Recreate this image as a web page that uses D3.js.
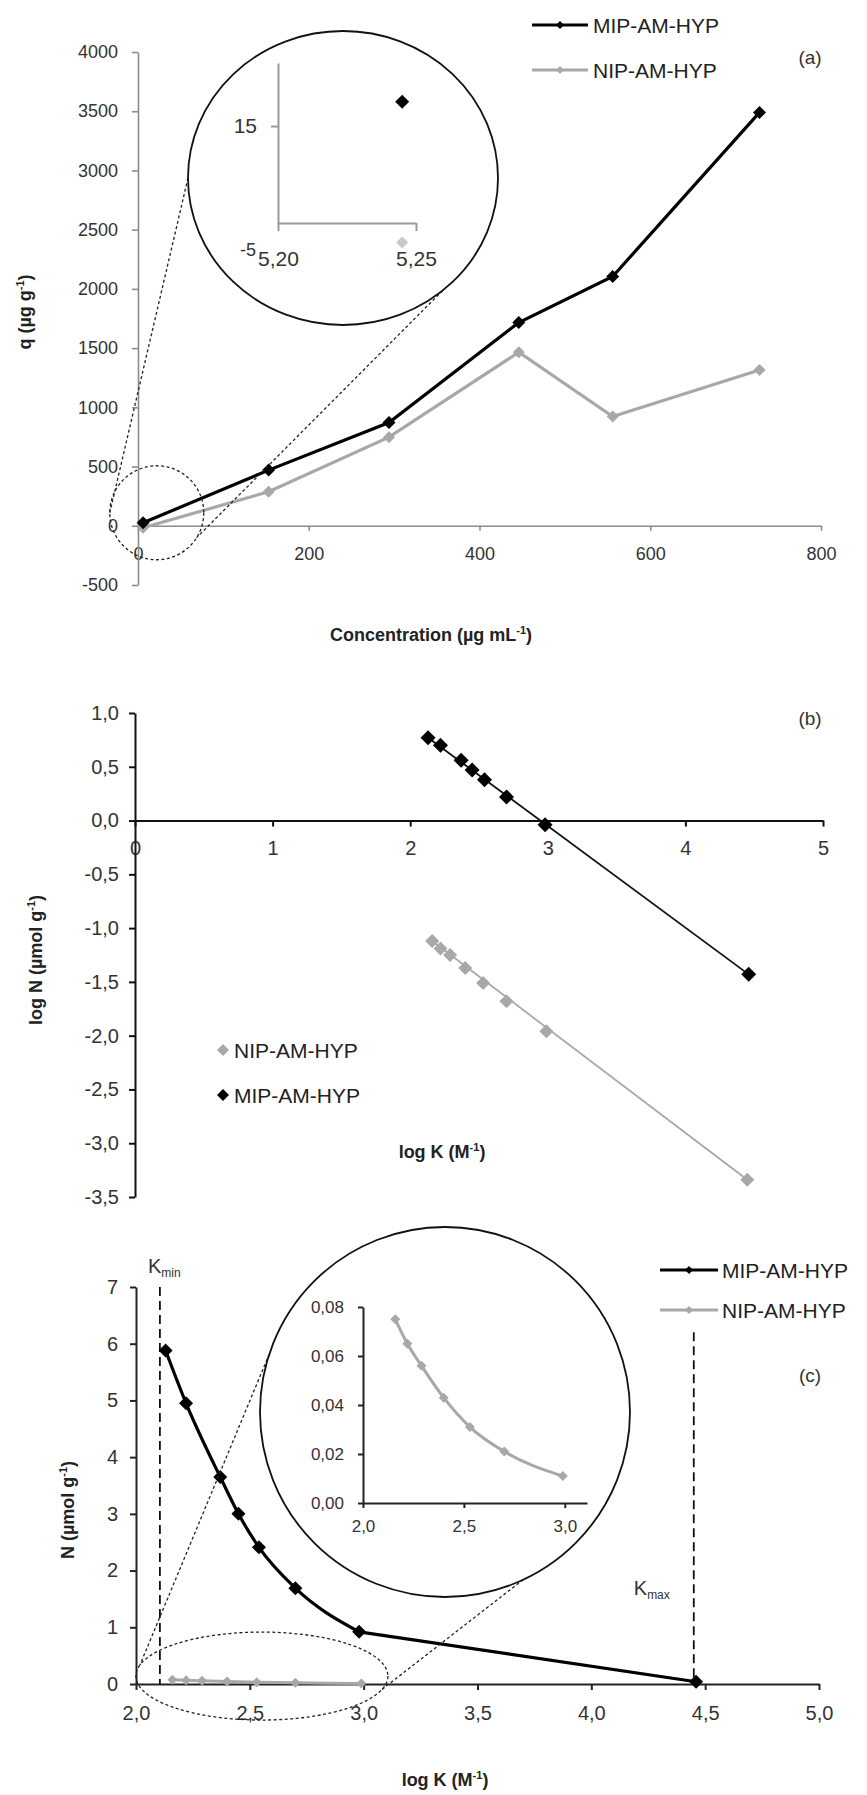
<!DOCTYPE html>
<html>
<head>
<meta charset="utf-8">
<script src="https://cdn.jsdelivr.net/npm/d3@7"></script>
<style>
  body { margin: 0; background: #fff; }
  text { font-family: "Liberation Sans", Arial, sans-serif; }
</style>
</head>
<body>
<div id="chart"></div>
<script>
// ---- panel (a): q vs concentration
const concA = [6, 153, 294, 446, 556, 728]
const qMIP = [25, 470, 872, 1716, 2105, 3490]
const qNIP = [-17, 288, 748, 1465, 922, 1316]
const qTicks = [-500, 0, 500, 1000, 1500, 2000, 2500, 3000, 3500, 4000]
const concTicks = [0, 200, 400, 600, 800]

// zoom inset of (a): first point only
const insetConc = [5.245]
const insetQMIP = [20]
const insetQNIP = [-9]
const insetConcTicks = [5.20, 5.25]
const insetQTicks = [15]

// ---- panel (b): log N vs log K
const logKMIP = [2.13, 2.22, 2.37, 2.45, 2.54, 2.70, 2.98, 4.46]
const logNMIP = [0.77, 0.70, 0.56, 0.47, 0.38, 0.22, -0.04, -1.43]
const logKNIP = [2.16, 2.22, 2.29, 2.40, 2.53, 2.70, 2.99, 4.45]
const logNNIP = [-1.12, -1.19, -1.25, -1.37, -1.51, -1.68, -1.96, -3.34]
const logKTicks = [0, 1, 2, 3, 4, 5]
const logNTicks = [-3.5, -3.0, -2.5, -2.0, -1.5, -1.0, -0.5, 0.0, 0.5, 1.0]

// ---- panel (c): N vs log K
const nMIP = [5.88, 4.95, 3.65, 3.0, 2.41, 1.69, 0.92, 0.04]
const logKNIPc = [2.16, 2.22, 2.29, 2.40, 2.53, 2.70, 2.99]
const nNIP = [0.075, 0.065, 0.056, 0.043, 0.031, 0.021, 0.011]
const logKTicksC = [2.0, 2.5, 3.0, 3.5, 4.0, 4.5, 5.0]
const nTicks = [0, 1, 2, 3, 4, 5, 6, 7]
const kMin = 2.105
const kMax = 4.45
const insetKTicks = [2.0, 2.5, 3.0]
const insetNTicks = [0, 0.02, 0.04, 0.06, 0.08]

const seriesNames = ["MIP-AM-HYP", "NIP-AM-HYP"]

const GREY = "#a8a8a8"
const W = 867, H = 1795

const svg = d3.select("#chart").append("svg")
  .attr("width", W)
  .attr("height", H)

const diamond = r => `M0,${-r}L${r},0L0,${r}L${-r},0Z`
const comma = f => d => d3.format(f)(d).replace(".", ",").replace("−", "-")

function styleAxis(sel, color, width, size, family) {
  sel.attr("font-size", size).attr("font-family", family || "Liberation Sans, Arial, sans-serif")
  sel.select(".domain").attr("stroke", color).attr("stroke-width", width)
  sel.selectAll(".tick line").attr("stroke", color).attr("stroke-width", width)
  sel.selectAll(".tick text").attr("fill", "#333")
}

function axisTitle(g, x, y, parts, rotate) {
  const t = g.append("text")
    .attr("transform", `translate(${x},${y})` + (rotate ? " rotate(-90)" : ""))
    .attr("text-anchor", "middle")
    .attr("font-size", 18)
    .attr("font-weight", "bold")
    .attr("fill", "#222")
  parts.forEach(p => {
    t.append("tspan")
      .attr("font-size", p.sup ? 11 : 18)
      .attr("dy", p.sup ? -7 : (p.after ? 7 : 0))
      .text(p.t)
  })
}

// ================= panel (a) =================
const xA = d3.scaleLinear().domain([0, 800]).range([138, 821])
const yA = d3.scaleLinear().domain([-500, 4000]).range([585, 52])
const gA = svg.append("g")

gA.append("g")
  .attr("transform", `translate(0,${yA(0)})`)
  .call(d3.axisBottom(xA).tickValues(concTicks).tickSize(5).tickSizeOuter(0).tickPadding(16).tickFormat(d3.format("d")))
  .call(s => styleAxis(s, "#8c8c8c", 1.6, 18))

gA.append("g")
  .attr("transform", `translate(${xA(0)},0)`)
  .call(d3.axisLeft(yA).tickValues(qTicks).tickSize(6).tickSizeOuter(0).tickPadding(14).tickFormat(comma("d")))
  .call(s => styleAxis(s, "#8c8c8c", 1.6, 18))

const lineA = d3.line().x(d => xA(d[0])).y(d => yA(d[1]))
const ptsAN = concA.map((c, i) => [c, qNIP[i]])
const ptsAM = concA.map((c, i) => [c, qMIP[i]])

gA.append("path").attr("d", lineA(ptsAN)).attr("fill", "none").attr("stroke", GREY).attr("stroke-width", 3.2)
gA.selectAll(".mn").data(ptsAN).enter().append("path")
  .attr("d", diamond(6)).attr("fill", GREY)
  .attr("transform", d => `translate(${xA(d[0])},${yA(d[1])})`)
gA.append("path").attr("d", lineA(ptsAM)).attr("fill", "none").attr("stroke", "#000").attr("stroke-width", 3.2)
gA.selectAll(".mm").data(ptsAM).enter().append("path")
  .attr("d", diamond(6.5)).attr("fill", "#000")
  .attr("transform", d => `translate(${xA(d[0])},${yA(d[1])})`)

// zoom callout (a)
const smallA = { cx: xA(22), cy: yA(110), r: 47 }
const bigA = { cx: 343, cy: 178, rx: 155, ry: 147 }
const onE = (e, deg) => [e.cx + (e.rx || e.r) * Math.cos(deg * Math.PI / 180), e.cy + (e.ry || e.r) * Math.sin(deg * Math.PI / 180)]
const dashA = [[onE(bigA, 180), onE(smallA, 180)], [onE(bigA, 50), onE(smallA, 32)]]
gA.append("ellipse").attr("cx", smallA.cx).attr("cy", smallA.cy).attr("rx", smallA.r).attr("ry", smallA.r)
  .attr("fill", "none").attr("stroke", "#222").attr("stroke-width", 1.3).attr("stroke-dasharray", "3,2.5")
dashA.forEach(l => gA.append("line")
  .attr("x1", l[0][0]).attr("y1", l[0][1]).attr("x2", l[1][0]).attr("y2", l[1][1])
  .attr("stroke", "#222").attr("stroke-width", 1.3).attr("stroke-dasharray", "3,2.5"))
gA.append("ellipse").attr("cx", bigA.cx).attr("cy", bigA.cy).attr("rx", bigA.rx).attr("ry", bigA.ry)
  .attr("fill", "#fff").attr("stroke", "#111").attr("stroke-width", 1.8)

const xIA = d3.scaleLinear().domain([5.20, 5.25]).range([278, 416])
const yIA = d3.scaleLinear().domain([-5, 28]).range([223, 63])
gA.append("g")
  .attr("transform", `translate(0,${yIA(-5)})`)
  .call(d3.axisBottom(xIA).tickValues(insetConcTicks).tickSize(8).tickSizeOuter(0).tickPadding(20).tickFormat(comma(".2f")))
  .call(s => styleAxis(s, "#9a9a9a", 2, 21, "Lato, sans-serif"))
gA.append("g")
  .attr("transform", `translate(${xIA(5.20)},0)`)
  .call(d3.axisLeft(yIA).tickValues(insetQTicks).tickSize(7).tickSizeOuter(0).tickPadding(14))
  .call(s => styleAxis(s, "#9a9a9a", 2, 21, "Lato, sans-serif"))
gA.append("text").attr("x", xIA(5.20) - 22).attr("y", yIA(-5) + 33)
  .attr("text-anchor", "end").attr("font-family", "Lato, sans-serif").attr("font-size", 18).attr("fill", "#333").text("-5")
gA.selectAll(".imn").data(insetConc).enter().append("path")
  .attr("d", diamond(6)).attr("fill", "#c8c8c8")
  .attr("transform", (d, i) => `translate(${xIA(d)},${yIA(insetQNIP[i])})`)
gA.selectAll(".imm").data(insetConc).enter().append("path")
  .attr("d", diamond(7)).attr("fill", "#000")
  .attr("transform", (d, i) => `translate(${xIA(d)},${yIA(insetQMIP[i])})`)

// legend (a)
const legA = gA.append("g")
seriesNames.forEach((n, i) => {
  const y = 25 + i * 45
  const c = i === 0 ? "#000" : GREY
  legA.append("line").attr("x1", 532).attr("x2", 588).attr("y1", y).attr("y2", y).attr("stroke", c).attr("stroke-width", 3.2)
  legA.append("path").attr("d", diamond(4)).attr("fill", c).attr("transform", `translate(560,${y})`)
  legA.append("text").attr("x", 593).attr("y", y).attr("dy", "0.36em").attr("font-size", 21).attr("fill", "#222").text(n)
})
gA.append("text").attr("x", 810).attr("y", 57).attr("dy", "0.35em").attr("text-anchor", "middle")
  .attr("font-family", "Liberation Serif, serif").attr("font-size", 19).attr("fill", "#333").text("(a)")

axisTitle(gA, 431, 641, [{ t: "Concentration (µg mL" }, { t: "-1", sup: true }, { t: ")", after: true }])
axisTitle(gA, 31, 312, [{ t: "q (µg g" }, { t: "-1", sup: true }, { t: ")", after: true }], true)

// ================= panel (b) =================
const xB = d3.scaleLinear().domain([0, 5]).range([135, 823])
const yB = d3.scaleLinear().domain([-3.5, 1.0]).range([1197, 713])
const gB = svg.append("g")

gB.append("g")
  .attr("transform", `translate(0,${yB(0)})`)
  .call(d3.axisBottom(xB).tickValues(logKTicks).tickSize(6).tickSizeOuter(0).tickPadding(14).tickFormat(d3.format("d")))
  .call(s => styleAxis(s, "#111", 2, 20))
gB.append("g")
  .attr("transform", `translate(${xB(0)},0)`)
  .call(d3.axisLeft(yB).tickValues(logNTicks).tickSize(6).tickSizeOuter(0).tickPadding(10).tickFormat(comma(".1f")))
  .call(s => styleAxis(s, "#111", 2, 20))

const lineB = d3.line().x(d => xB(d[0])).y(d => yB(d[1]))
const ptsBN = logKNIP.map((k, i) => [k, logNNIP[i]])
const ptsBM = logKMIP.map((k, i) => [k, logNMIP[i]])
gB.append("path").attr("d", lineB([ptsBN[0], ptsBN[ptsBN.length - 1]])).attr("fill", "none").attr("stroke", GREY).attr("stroke-width", 1.8)
gB.selectAll(".bn").data(ptsBN).enter().append("path")
  .attr("d", diamond(7)).attr("fill", GREY)
  .attr("transform", d => `translate(${xB(d[0])},${yB(d[1])})`)
gB.append("path").attr("d", lineB([ptsBM[0], ptsBM[ptsBM.length - 1]])).attr("fill", "none").attr("stroke", "#111").attr("stroke-width", 1.8)
gB.selectAll(".bm").data(ptsBM).enter().append("path")
  .attr("d", diamond(7.5)).attr("fill", "#000")
  .attr("transform", d => `translate(${xB(d[0])},${yB(d[1])})`)

// legend (b), markers only
;[seriesNames[1], seriesNames[0]].forEach((n, i) => {
  const y = 1050 + i * 45
  gB.append("path").attr("d", diamond(6)).attr("fill", i === 0 ? GREY : "#000").attr("transform", `translate(223,${y})`)
  gB.append("text").attr("x", 234).attr("y", y).attr("dy", "0.36em").attr("font-size", 21).attr("fill", "#222").text(n)
})
gB.append("text").attr("x", 810).attr("y", 718).attr("dy", "0.35em").attr("text-anchor", "middle")
  .attr("font-family", "Liberation Serif, serif").attr("font-size", 19).attr("fill", "#333").text("(b)")

axisTitle(gB, 442, 1158, [{ t: "log K (M" }, { t: "-1", sup: true }, { t: ")", after: true }])
axisTitle(gB, 42, 960, [{ t: "log N (µmol g" }, { t: "-1", sup: true }, { t: ")", after: true }], true)

// ================= panel (c) =================
const xC = d3.scaleLinear().domain([2, 5]).range([136, 819])
const yC = d3.scaleLinear().domain([0, 7]).range([1684, 1287])
const gC = svg.append("g")

gC.append("g")
  .attr("transform", `translate(0,${yC(0)})`)
  .call(d3.axisBottom(xC).tickValues(logKTicksC).tickSize(6).tickSizeOuter(0).tickPadding(16).tickFormat(comma(".1f")))
  .call(s => styleAxis(s, "#222", 2, 20))
gC.append("g")
  .attr("transform", `translate(${xC(2)},0)`)
  .call(d3.axisLeft(yC).tickValues(nTicks).tickSize(6).tickSizeOuter(0).tickPadding(12).tickFormat(d3.format("d")))
  .call(s => styleAxis(s, "#222", 2, 20))

// Kmin / Kmax markers
gC.append("line").attr("x1", xC(kMin)).attr("x2", xC(kMin)).attr("y1", yC(7)).attr("y2", yC(0))
  .attr("stroke", "#111").attr("stroke-width", 1.8).attr("stroke-dasharray", "9,5")
gC.append("line").attr("x1", xC(kMax)).attr("x2", xC(kMax)).attr("y1", yC(6.2)).attr("y2", yC(0))
  .attr("stroke", "#111").attr("stroke-width", 1.8).attr("stroke-dasharray", "9,5")
const kLabel = (x, y, sub) => {
  const t = gC.append("text").attr("x", x).attr("y", y).attr("font-size", 20).attr("fill", "#333")
  t.append("tspan").text("K")
  t.append("tspan").attr("font-size", 12).attr("dy", 4).text(sub)
}
kLabel(xC(kMin) - 12, 1273, "min")
kLabel(xC(kMax) - 60, 1595, "max")

// smoothed through the clustered points, straight on to the last one
const lineC = d3.line().x(d => xC(d[0])).y(d => yC(d[1])).curve(d3.curveMonotoneX)
const lineCStraight = d3.line().x(d => xC(d[0])).y(d => yC(d[1]))
const ptsCM = logKMIP.map((k, i) => [k, nMIP[i]])
const ptsCN = logKNIPc.map((k, i) => [k, nNIP[i]])
gC.append("path").attr("d", lineC(ptsCN)).attr("fill", "none").attr("stroke", GREY).attr("stroke-width", 3)
gC.selectAll(".cn").data(ptsCN).enter().append("path")
  .attr("d", diamond(5)).attr("fill", GREY)
  .attr("transform", d => `translate(${xC(d[0])},${yC(d[1])})`)
gC.append("path").attr("d", lineC(ptsCM.slice(0, -1))).attr("fill", "none").attr("stroke", "#000").attr("stroke-width", 3.2)
gC.append("path").attr("d", lineCStraight(ptsCM.slice(-2))).attr("fill", "none").attr("stroke", "#000").attr("stroke-width", 3.2)
gC.selectAll(".cm").data(ptsCM).enter().append("path")
  .attr("d", diamond(7)).attr("fill", "#000")
  .attr("transform", d => `translate(${xC(d[0])},${yC(d[1])})`)

// zoom callout (c)
const smallC = { cx: xC(2.553), cy: yC(0.14), rx: 126, ry: 44 }
const bigC = { cx: 445, cy: 1412, r: 185 }
const dashC = [[onE(bigC, 206.8), onE(smallC, 194.5)], [onE(bigC, 39.2), onE(smallC, 18)]]
gC.append("ellipse").attr("cx", smallC.cx).attr("cy", smallC.cy).attr("rx", smallC.rx).attr("ry", smallC.ry)
  .attr("fill", "none").attr("stroke", "#222").attr("stroke-width", 1.3).attr("stroke-dasharray", "3,2.5")
dashC.forEach(l => gC.append("line")
  .attr("x1", l[0][0]).attr("y1", l[0][1]).attr("x2", l[1][0]).attr("y2", l[1][1])
  .attr("stroke", "#222").attr("stroke-width", 1.3).attr("stroke-dasharray", "3,2.5"))
gC.append("circle").attr("cx", bigC.cx).attr("cy", bigC.cy).attr("r", bigC.r)
  .attr("fill", "#fff").attr("stroke", "#111").attr("stroke-width", 1.8)

const xIC = d3.scaleLinear().domain([2.0, 3.11]).range([363, 587])
const yIC = d3.scaleLinear().domain([0, 0.08]).range([1503, 1307])
gC.append("g")
  .attr("transform", `translate(0,${yIC(0)})`)
  .call(d3.axisBottom(xIC).tickValues(insetKTicks).tickSize(5).tickSizeOuter(0).tickPadding(12).tickFormat(comma(".1f")))
  .call(s => styleAxis(s, "#222", 2, 17))
gC.append("g")
  .attr("transform", `translate(${xIC(2.0)},0)`)
  .call(d3.axisLeft(yIC).tickValues(insetNTicks).tickSize(5).tickSizeOuter(0).tickPadding(14).tickFormat(comma(".2f")))
  .call(s => styleAxis(s, "#222", 2, 17))
const lineIC = d3.line().x(d => xIC(d[0])).y(d => yIC(d[1])).curve(d3.curveMonotoneX)
gC.append("path").attr("d", lineIC(ptsCN)).attr("fill", "none").attr("stroke", GREY).attr("stroke-width", 3)
gC.selectAll(".icn").data(ptsCN).enter().append("path")
  .attr("d", diamond(5)).attr("fill", GREY)
  .attr("transform", d => `translate(${xIC(d[0])},${yIC(d[1])})`)

// legend (c)
seriesNames.forEach((n, i) => {
  const y = 1270 + i * 40
  const c = i === 0 ? "#000" : GREY
  gC.append("line").attr("x1", 660).attr("x2", 718).attr("y1", y).attr("y2", y).attr("stroke", c).attr("stroke-width", 3.2)
  gC.append("path").attr("d", diamond(4)).attr("fill", c).attr("transform", `translate(689,${y})`)
  gC.append("text").attr("x", 722).attr("y", y).attr("dy", "0.36em").attr("font-size", 21).attr("fill", "#222").text(n)
})
gC.append("text").attr("x", 810).attr("y", 1375).attr("dy", "0.35em").attr("text-anchor", "middle")
  .attr("font-family", "Liberation Serif, serif").attr("font-size", 19).attr("fill", "#333").text("(c)")

axisTitle(gC, 445, 1786, [{ t: "log K (M" }, { t: "-1", sup: true }, { t: ")", after: true }])
axisTitle(gC, 74, 1510, [{ t: "N (µmol g" }, { t: "-1", sup: true }, { t: ")", after: true }], true)
</script>
</body>
</html>
